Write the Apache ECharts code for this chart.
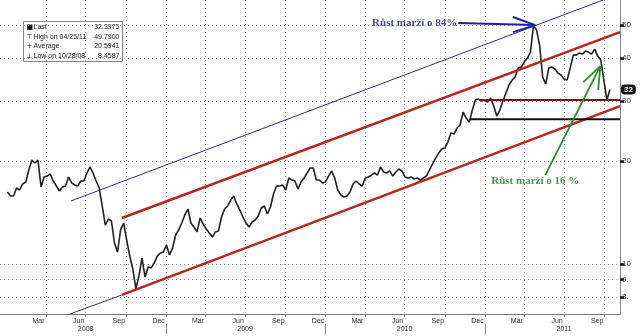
<!DOCTYPE html>
<html><head><meta charset="utf-8">
<script src="https://cdn.jsdelivr.net/npm/echarts@6/dist/echarts.min.js"></script>
<style>html,body{margin:0;padding:0;background:#fff}#c{width:640px;height:336px}</style>
</head><body><div id="c"></div>
<script>
// ---------- data ----------
const startDate = '2008-01-04';
const stepDays = 7;
const priceValues = [
  16.24, 15.81, 15.81, 16.68, 16.46, 17.14, 17.37, 18.83, 20.13, 19.74,
  20.13, 16.79, 17.96, 18.08, 18.33, 17.49, 16.91, 16.35, 16.79, 16.91,
  17.96, 17.26, 17.02, 16.91, 17.49, 17.49, 18.45, 19.22, 18.45, 17.49,
  16.68, 14.78, 13.00, 13.54, 13.36, 11.52, 10.84, 12.58, 13.18, 11.75,
  10.55, 9.67, 8.46, 9.23, 10.41, 9.16, 9.80, 9.74, 10.07, 10.55,
  10.77, 10.84, 11.36, 10.63, 11.13, 12.16, 12.58, 13.18, 13.91, 14.48,
  13.18, 12.83, 12.41, 13.63, 13.09, 12.66, 12.32, 11.99, 12.41, 12.49,
  13.72, 14.48, 14.78, 15.38, 15.81, 14.98, 14.38, 13.72, 13.18, 12.83,
  13.27, 13.45, 13.81, 14.58, 14.78, 14.00, 14.68, 16.02, 16.91, 16.91,
  17.02, 16.46, 17.84, 17.60, 17.49, 16.57, 17.37, 17.84, 18.45, 19.09,
  19.09, 17.60, 17.60, 17.26, 17.37, 18.08, 18.71, 17.84, 16.46, 15.91,
  15.70, 15.81, 16.24, 17.14, 17.49, 17.14, 16.91, 17.84, 17.96, 18.20,
  18.45, 18.20, 19.22, 18.58, 18.45, 18.71, 18.08, 18.58, 18.96, 18.71,
  17.96, 17.84, 17.96, 17.72, 17.84, 17.60, 17.84, 18.08, 18.83, 19.61,
  20.40, 21.10, 21.68, 21.82, 22.73, 24.15, 23.99, 24.98, 25.49, 27.81,
  26.71, 26.00, 28.19, 30.15, 30.36, 29.95, 30.15, 29.75, 30.56, 28.96,
  27.08, 28.19, 29.95, 31.61, 33.36, 34.50, 35.21, 37.41, 37.66, 38.95,
  40.00, 41.65, 49.79, 48.31, 43.66, 35.21, 33.59, 37.41, 37.66, 37.16,
  36.17, 35.69, 34.73, 34.50, 37.41, 40.82, 40.82, 41.37, 41.10, 41.93,
  41.65, 41.10, 42.50, 40.54, 39.47, 34.50, 30.20, 32.40
];
const lastLabel = '32';
const xMinDate = '2007-12-18';
const xMaxDate = '2011-11-06';
const yMin = 7.142;
const yMax = 59.15;
const yTickValues = [8, 9, 10, 20, 30, 40, 50];
const yTickLabels = ['8.', '9.', '10', '20', '30', '40', '50'];
const labelMonths = [2, 5, 8, 11];
const monthNames = ['Jan','Feb','Mar','Apr','May','Jun','Jul','Aug','Sep','Oct','Nov','Dec'];
const years = [2008, 2009, 2010, 2011];
const yearLabels = ['2008', '2009', '2010', '2011'];
const quarterStarts = ['2008-04-01','2008-07-01','2008-10-01','2009-01-01','2009-04-01','2009-07-01','2009-10-01',
  '2010-01-01','2010-04-01','2010-07-01','2010-10-01','2011-01-01','2011-04-01','2011-07-01','2011-10-01'];
const yearSeparators = ['2009-01-01', '2010-01-01', '2011-01-01'];

const upperBlue = [['2008-05-28', 15.28], ['2011-11-06', 61.75]];
const lowerBlue = [['2008-05-26', 7.14], ['2008-09-22', 8.12]];
const upperRed = [['2008-09-22', 13.63], ['2011-11-06', 47.66]];
const lowerRed = [['2008-09-22', 8.12], ['2011-11-06', 28.96]];
const resistance = [['2010-12-21', 30.15], ['2011-11-06', 30.15]];
const support = [['2010-11-28', 26.5], ['2011-11-06', 26.5]];
const greenArrow = [['2011-05-19', 18.20], ['2011-09-22', 37.91]];
const greenHead = [['2011-08-14', 34.04], ['2011-09-22', 37.91], ['2011-09-17', 32.26]];
const blueArrow = [['2010-11-01', 50.66], ['2011-04-26', 49.96]];
const blueHead = [['2011-03-06', 52.75], ['2011-04-26', 49.96], ['2011-03-06', 47.66]];

const note84 = { text: 'Růst marží o 84%', at: ['2010-11-01', 50.66] };
const note16 = { text: 'Růst marží o 16 %', at: ['2011-04-26', 17.49] };

const legendIcons = ['■', '⊤', '+', '⊥'];
const legendLabels = ['Last', 'High on 04/25/11', 'Average', 'Low on 10/28/08'];
const legendValues = ['32.3975', '49.7900', '20.5941', '8.4587'];

// ---------- helpers ----------
const DAY = 86400000;
const d = s => { const p = s.split('-').map(Number); return Date.UTC(p[0], p[1] - 1, p[2]); };
const pts = arr => arr.map(p => [d(p[0]), p[1]]);
const t0 = d(startDate);
const priceData = priceValues.map((v, i) => [t0 + i * stepDays * DAY, v]);
const xMin = d(xMinDate), xMax = d(xMaxDate);
const quarterTimes = quarterStarts.map(d);

const monthLabelDates = [];
for (const y of years) for (const m of labelMonths) {
  const t = Date.UTC(y, m, 15);
  if (t >= xMin && t <= xMax) monthLabelDates.push(t);
}
const yearLabelDates = years.map(y => Date.UTC(y, 6, 1));

function lineSeries(name, data, color, width, z) {
  return { name, type: 'line', data: pts(data), showSymbol: false, symbol: 'none', silent: true,
    lineStyle: { color, width }, z: z || 3, clip: true };
}

const gridLineStyle = { type: [1, 3], color: '#9a9a9a', width: 1 };

const chart = echarts.init(document.getElementById('c'), null, { renderer: 'canvas' });
chart.setOption({
  animation: false,
  backgroundColor: '#ffffff',
  grid: { left: 0, right: 20, top: 0, bottom: 22, containLabel: false },
  xAxis: [
    { type: 'value', min: xMin, max: xMax, position: 'bottom', scale: true,
      axisLine: { show: true, lineStyle: { color: '#777', width: 1 } },
      axisTick: { show: true, customValues: quarterTimes, length: 3, lineStyle: { color: '#777' } },
      axisLabel: { customValues: monthLabelDates, formatter: v => monthNames[new Date(v).getUTCMonth()],
        fontSize: 7, color: '#333', margin: 4, fontFamily: 'Liberation Sans' },
      splitLine: { show: true, lineStyle: gridLineStyle },
      minorTick: { show: false }, minorSplitLine: { show: false } },
    { type: 'value', min: xMin, max: xMax, position: 'bottom', offset: 10, scale: true,
      axisLine: { show: false },
      axisTick: { show: true, customValues: yearSeparators.map(d), length: 10, lineStyle: { color: '#888' } },
      axisLabel: { customValues: yearLabelDates,
        formatter: v => yearLabels[years.indexOf(new Date(v).getUTCFullYear())],
        fontSize: 7, color: '#333', margin: 2, fontFamily: 'Liberation Sans' },
      splitLine: { show: false }, minorTick: { show: false }, minorSplitLine: { show: false } }
  ],
  yAxis: {
    type: 'log', logBase: 10, position: 'right', min: yMin, max: yMax,
    axisLine: { show: true, lineStyle: { color: '#888' } },
    axisTick: { show: true, customValues: yTickValues, length: 4, lineStyle: { color: '#111', width: 2.5 } },
    axisLabel: { customValues: yTickValues,
      formatter: v => { let bi = 0; yTickValues.forEach((t, i) => { if (Math.abs(t - v) < Math.abs(yTickValues[bi] - v)) bi = i; }); return yTickLabels[bi]; },
      fontSize: 8, color: '#333', margin: 2, fontFamily: 'Liberation Sans' },
    splitLine: { show: true, lineStyle: gridLineStyle },
    minorTick: { show: false }, minorSplitLine: { show: false }
  },
  series: [
    { name: 'price', type: 'line', data: priceData, showSymbol: false, symbol: 'none', silent: true,
      lineStyle: { color: '#222', width: 1.6 }, z: 2,
      endLabel: { show: true, formatter: () => lastLabel, distance: 11, color: '#fff', backgroundColor: '#111',
        padding: [1, 3], borderRadius: 4, fontSize: 8, fontWeight: 'bold', fontFamily: 'Liberation Sans' } },
    lineSeries('upperBlue', upperBlue, '#2b2f7a', 1, 3),
    lineSeries('lowerBlue', lowerBlue, '#2b2f7a', 1, 3),
    lineSeries('upperRed', upperRed, '#b8261c', 2.5, 4),
    lineSeries('lowerRed', lowerRed, '#b8261c', 2.5, 4),
    lineSeries('resistance', resistance, '#7a1410', 2, 4),
    lineSeries('support', support, '#111111', 2, 4),
    lineSeries('greenArrow', greenArrow, '#2e8b2e', 1.8, 5),
    lineSeries('greenHead', greenHead, '#2e8b2e', 1.8, 5),
    lineSeries('blueArrow', blueArrow, '#1f1fa0', 2, 5),
    lineSeries('blueHead', blueHead, '#1f1fa0', 2, 5),
    { name: 'notes', type: 'scatter', symbolSize: 0, silent: true, z: 6,
      data: [
        { value: [d(note84.at[0]), note84.at[1]],
          label: { show: true, formatter: note84.text, position: 'left', distance: 1, color: '#1a1a85',
            fontSize: 11, fontWeight: 'bold', fontFamily: 'Liberation Serif' } },
        { value: [d(note16.at[0]), note16.at[1]],
          label: { show: true, formatter: note16.text, position: 'inside', color: '#257525',
            fontSize: 11, fontWeight: 'bold', fontFamily: 'Liberation Serif' } }
      ] }
  ],
  graphic: [{
    type: 'group', left: 23, top: 21, z: 100,
    children: [
      { type: 'rect', shape: { x: 0, y: 0, width: 99, height: 40 }, style: { fill: '#fff', stroke: '#888', lineWidth: 1 } }
    ].concat(legendLabels.flatMap((lab, i) => [
      { type: 'text', x: 3, y: 6 + i * 9.4, style: { text: legendIcons[i], fontSize: 7, fill: '#111', verticalAlign: 'middle', fontFamily: 'DejaVu Sans' } },
      { type: 'text', x: 10, y: 6 + i * 9.4, style: { text: lab, fontSize: 7, fill: '#222', verticalAlign: 'middle', fontFamily: 'Liberation Sans' } },
      { type: 'text', x: 96, y: 6 + i * 9.4, style: { text: legendValues[i], fontSize: 7, fill: '#222', align: 'right', verticalAlign: 'middle', fontFamily: 'Liberation Sans' } }
    ]))
  }]
});
</script></body></html>
